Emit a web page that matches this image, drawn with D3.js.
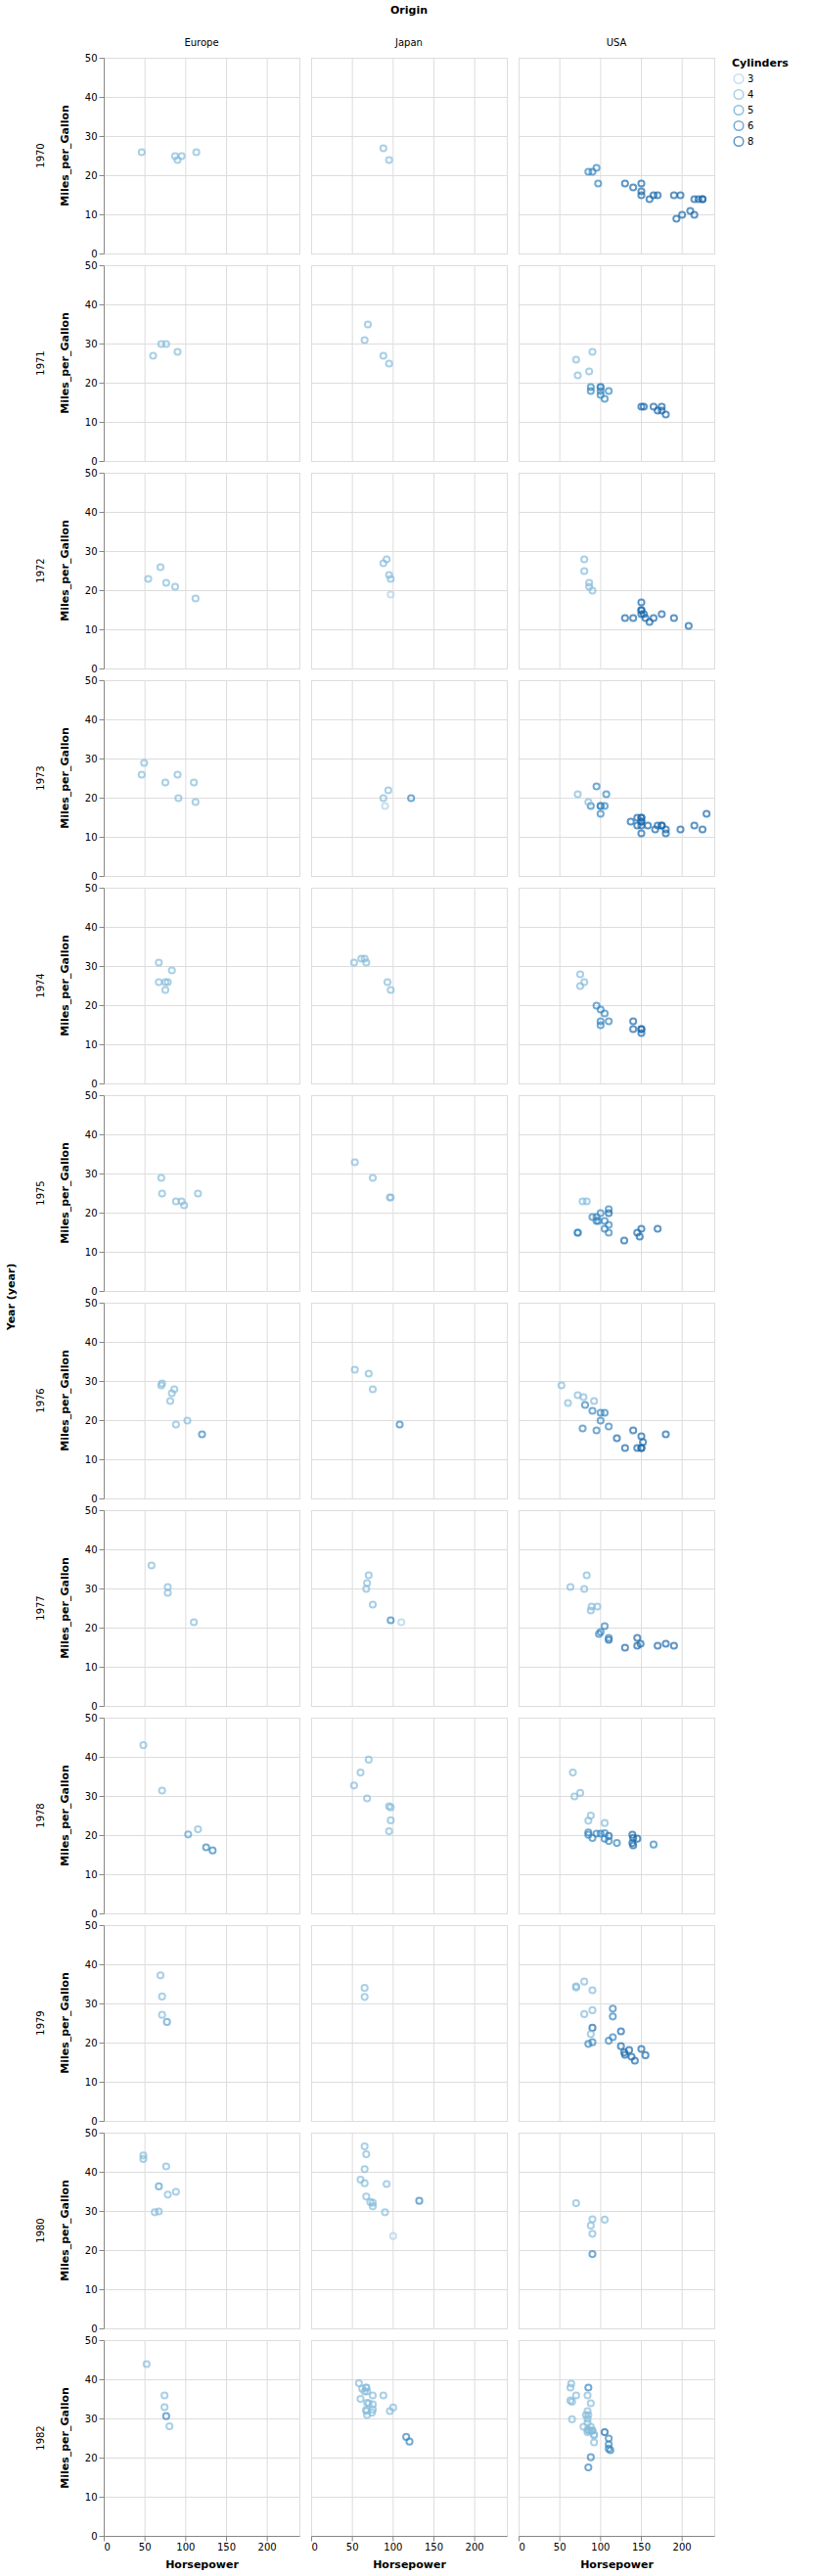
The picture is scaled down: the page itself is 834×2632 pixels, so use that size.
<!DOCTYPE html>
<html><head><meta charset="utf-8">
<script src="https://cdn.jsdelivr.net/npm/d3@7"></script>
<style>body{margin:0;background:#fff} text{font-family:"DejaVu Sans",sans-serif}</style>
</head><body><svg id="chart" width="834" height="2632"></svg>
<script>
// ---- data: each row = [origin, horsepower, miles_per_gallon, cylinders]
const years = [1970,1971,1972,1973,1974,1975,1976,1977,1978,1979,1980,1982];
const origins = ["Europe","Japan","USA"];
const cylinderLevels = [3,4,5,6,8];

const cars1970 = [["USA",130,18,8],["USA",165,15,8],["USA",150,18,8],["USA",150,16,8],["USA",140,17,8],["USA",198,15,8],["USA",220,14,8],["USA",215,14,8],["USA",225,14,8],["USA",190,15,8],["USA",170,15,8],["USA",160,14,8],["USA",150,15,8],["USA",225,14,8],["Japan",95,24,4],["USA",95,22,6],["USA",97,18,6],["USA",85,21,6],["Japan",88,27,4],["Europe",46,26,4],["Europe",87,25,4],["Europe",90,24,4],["Europe",95,25,4],["Europe",113,26,4],["USA",90,21,6],["USA",215,10,8],["USA",200,10,8],["USA",210,11,8],["USA",193,9,8]];
const cars1971 = [["Japan",88,27,4],["USA",90,28,4],["Japan",95,25,4],["USA",100,19,6],["USA",105,16,6],["USA",100,17,6],["USA",88,19,6],["USA",100,18,6],["USA",165,14,8],["USA",175,14,8],["USA",153,14,8],["USA",150,14,8],["USA",180,12,8],["USA",170,13,8],["USA",175,13,8],["USA",110,18,6],["USA",72,22,4],["USA",100,19,6],["USA",88,18,6],["USA",86,23,4],["Europe",90,28,4],["Europe",70,30,4],["Europe",76,30,4],["Japan",65,31,4],["Japan",69,35,4],["Europe",60,27,4],["USA",70,26,4]];
const cars1972 = [["Japan",95,24,4],["USA",80,25,4],["Europe",54,23,4],["USA",90,20,4],["USA",86,21,4],["USA",165,13,8],["USA",175,14,8],["USA",150,15,8],["USA",153,14,8],["USA",150,17,8],["USA",208,11,8],["USA",155,13,8],["USA",160,12,8],["USA",190,13,8],["Japan",97,19,3],["USA",150,15,8],["USA",130,13,8],["USA",140,13,8],["USA",150,14,8],["Europe",112,18,4],["Europe",76,22,4],["Europe",87,21,4],["Europe",69,26,4],["USA",86,22,4],["Japan",92,28,4],["Japan",97,23,4],["USA",80,28,4],["Japan",88,27,4]];
const cars1973 = [["USA",175,13,8],["USA",150,14,8],["USA",145,13,8],["USA",137,14,8],["USA",150,15,8],["USA",198,12,8],["USA",150,13,8],["USA",158,13,8],["USA",150,14,8],["USA",215,13,8],["USA",225,12,8],["USA",175,13,8],["USA",105,18,6],["USA",100,16,6],["USA",100,18,6],["USA",88,18,6],["USA",95,23,6],["Europe",46,26,4],["USA",150,11,8],["USA",167,12,8],["USA",170,13,8],["USA",180,12,8],["USA",100,18,6],["Japan",88,20,4],["USA",72,21,4],["Japan",94,22,4],["Japan",90,18,3],["USA",85,19,4],["USA",107,21,6],["Europe",90,26,4],["USA",145,15,8],["USA",230,16,8],["Europe",49,29,4],["Europe",75,24,4],["Europe",91,20,4],["Europe",112,19,4],["USA",150,15,8],["Europe",110,24,4],["Japan",122,20,6],["USA",180,11,8]];
const cars1974 = [["USA",95,20,6],["USA",100,19,6],["USA",100,15,6],["Japan",67,31,4],["USA",80,26,4],["Japan",65,32,4],["USA",75,25,4],["USA",100,16,6],["USA",110,16,6],["USA",105,18,6],["USA",140,16,8],["USA",150,13,8],["USA",150,14,8],["USA",140,14,8],["USA",150,14,8],["Europe",83,29,4],["Europe",67,26,4],["Europe",78,26,4],["Japan",52,31,4],["Japan",61,32,4],["USA",75,28,4],["Europe",75,24,4],["Europe",75,26,4],["Japan",97,24,4],["Japan",93,26,4],["Europe",67,31,4]];
const cars1975 = [["USA",95,19,6],["USA",105,18,6],["USA",72,15,6],["USA",72,15,6],["USA",170,16,8],["USA",145,15,8],["USA",150,16,8],["USA",148,14,8],["USA",110,17,6],["USA",105,16,6],["USA",110,15,6],["USA",95,18,6],["USA",110,21,6],["USA",110,20,8],["USA",129,13,8],["Japan",75,29,4],["USA",83,23,4],["USA",100,20,6],["USA",78,23,4],["Japan",96,24,4],["Europe",71,25,4],["Japan",97,24,4],["USA",97,18,6],["Europe",70,29,4],["USA",90,19,6],["Europe",95,23,4],["Europe",88,23,4],["Europe",98,22,4],["Europe",115,25,4],["Japan",53,33,4]];
const cars1976 = [["Japan",75,28,4],["USA",92,25,4],["Europe",81,25,4],["USA",79,26,4],["Europe",83,27,4],["USA",140,17.5,8],["USA",150,16,8],["USA",120,15.5,8],["USA",152,14.5,8],["USA",100,22,6],["USA",105,22,6],["USA",81,24,6],["USA",90,22.5,6],["USA",52,29,4],["USA",60,24.5,4],["Europe",70,29,4],["Japan",53,33,4],["USA",100,20,6],["USA",78,18,6],["USA",110,18.5,6],["USA",95,17.5,6],["Europe",71,29.5,4],["Japan",70,32,4],["USA",72,26.5,4],["Europe",102,20,4],["USA",150,13,8],["Europe",88,19,4],["Japan",108,19,6],["Europe",120,16.5,6],["USA",180,16.5,8],["USA",145,13,8],["USA",130,13,8],["USA",150,13,8],["Europe",86,28,4]];
const cars1977 = [["Europe",58,36,4],["USA",96,25.5,4],["Japan",70,33.5,4],["USA",145,17.5,8],["USA",110,17,8],["USA",145,15.5,8],["USA",130,15,8],["USA",110,17.5,6],["USA",105,20.5,6],["USA",100,19,6],["USA",98,18.5,6],["USA",180,16,8],["USA",170,15.5,8],["USA",190,15.5,8],["USA",149,16,8],["Europe",78,29,4],["USA",88,24.5,4],["Japan",75,26,4],["USA",89,25.5,4],["USA",63,30.5,4],["USA",83,33.5,4],["Japan",67,30,4],["Europe",78,30.5,4],["Japan",97,22,6],["Europe",110,21.5,4],["Japan",110,21.5,3],["Japan",68,31.5,4],["USA",80,30,4]];
const cars1978 = [["Europe",48,43.1,4],["USA",66,36.1,4],["Japan",52,32.8,4],["Japan",70,39.4,4],["Japan",60,36.1,4],["USA",110,19.9,8],["USA",140,19.4,8],["USA",139,20.2,8],["USA",105,19.2,6],["USA",95,20.5,6],["USA",85,20.2,6],["USA",88,25.1,4],["USA",100,20.5,6],["USA",90,19.4,6],["USA",105,20.6,6],["USA",85,20.8,6],["USA",110,18.6,6],["USA",120,18.1,6],["USA",145,19.2,8],["USA",165,17.7,6],["USA",139,18.1,8],["USA",140,17.5,8],["USA",68,30,4],["Japan",95,27.5,4],["Japan",97,27.2,4],["USA",75,30.9,4],["Japan",95,21.1,4],["USA",105,23.2,4],["USA",85,23.8,4],["Japan",97,23.9,4],["Europe",103,20.3,5],["Europe",125,17,6],["Europe",115,21.6,4],["Europe",133,16.2,6],["Europe",71,31.5,4],["Japan",68,29.5,4]];
const cars1979 = [["USA",90,20.2,6],["USA",110,20.6,6],["USA",130,17,8],["USA",129,17.6,8],["USA",138,16.5,8],["USA",135,18.2,8],["USA",155,16.9,8],["USA",142,15.5,8],["USA",125,19.2,8],["USA",150,18.5,8],["Europe",71,31.9,4],["Japan",65,34.1,4],["USA",80,35.7,4],["USA",80,27.4,4],["Europe",77,25.4,5],["USA",125,23,8],["Europe",71,27.2,4],["USA",90,23.9,8],["USA",70,34.2,4],["USA",70,34.5,4],["Japan",65,31.8,4],["Europe",69,37.3,4],["USA",90,28.4,4],["USA",115,28.8,6],["USA",115,26.8,6],["USA",90,33.5,4],["USA",88,22.3,4],["USA",85,19.8,6],["USA",115,21.5,6]];
const cars1980 = [["Japan",60,38.1,4],["Japan",65,37.2,4],["USA",90,28,4],["USA",88,26.4,4],["USA",90,24.3,4],["USA",90,19.1,6],["Europe",78,34.3,4],["Japan",90,29.8,4],["Japan",75,31.3,4],["Japan",92,37,4],["Japan",75,32.2,4],["Japan",65,46.6,4],["USA",105,27.9,4],["Japan",65,40.8,4],["Europe",48,44.3,4],["Europe",48,43.4,4],["Europe",67,36.4,5],["Europe",67,30,4],["Japan",67,44.6,4],["Japan",67,33.8,4],["Europe",62,29.8,4],["Japan",132,32.7,6],["Japan",100,23.7,3],["Europe",88,35,4],["Japan",72,32.4,4],["USA",70,32.1,4],["Europe",76,41.5,4]];
const cars1982 = [["USA",84,27.2,4],["USA",84,26.6,4],["USA",92,25.8,4],["USA",110,23.5,6],["USA",84,30,4],["Japan",58,39.1,4],["USA",64,39,4],["Japan",60,35.1,4],["Japan",67,32.3,4],["Japan",65,37,4],["Japan",62,37.7,4],["Japan",68,34.1,4],["USA",63,34.7,4],["USA",65,34.4,4],["USA",65,29.9,4],["Europe",74,33,4],["Japan",75,33.7,4],["Japan",75,32.4,4],["Japan",100,32.9,4],["Japan",74,31.6,4],["Europe",80,28.1,4],["Europe",76,30.7,6],["Japan",116,25.4,6],["Japan",120,24.2,6],["USA",110,22.4,6],["USA",105,26.6,8],["USA",88,20.2,6],["USA",85,17.6,6],["USA",88,28,4],["USA",88,27,4],["USA",88,34,4],["USA",85,31,4],["USA",84,29,4],["USA",90,27,4],["USA",92,24,4],["Europe",74,36,4],["Japan",68,37,4],["Japan",68,31,4],["USA",63,38,4],["USA",70,36,4],["Japan",88,36,4],["Japan",75,36,4],["Japan",70,34,4],["Japan",67,38,4],["Japan",67,32,4],["Japan",67,38,4],["USA",110,25,6],["USA",85,38,6],["USA",92,26,4],["USA",112,22,6],["Japan",96,32,4],["USA",84,36,4],["USA",90,27,4],["USA",86,27,4],["Europe",52,44,4],["USA",84,32,4],["USA",79,28,4],["USA",82,31,4]];
const carsByYear = [cars1970,cars1971,cars1972,cars1973,cars1974,cars1975,cars1976,cars1977,cars1978,cars1979,cars1980,cars1982];

// ---- layout / style
const W = 200, H = 200, GAP = 12, LEFT = 106, TOP = 59;
const FONT = '"DejaVu Sans", sans-serif';
const svg = d3.select("#chart");
svg.append("rect").attr("width",834).attr("height",2632).attr("fill","#fff");

const all = carsByYear.flat();
const x = d3.scaleLinear().domain([0, d3.max(all, d => d[1])]).nice().range([0, W]);
const y = d3.scaleLinear().domain([0, d3.max(all, d => d[2])]).nice().range([H, 0]);
const color = d3.scaleOrdinal().domain(cylinderLevels)
  .range(["#afd1e7","#86bcdc","#5ba3cf","#3887c0","#1b69ad"]);
const colPos = d3.scaleBand().domain(origins)
  .range([LEFT, LEFT + origins.length*(W+GAP) - GAP]).paddingInner(GAP/(W+GAP)).paddingOuter(0);
const rowPos = d3.scaleBand().domain(years)
  .range([TOP, TOP + years.length*(H+GAP) - GAP]).paddingInner(GAP/(H+GAP)).paddingOuter(0);
const R = Math.sqrt(30/Math.PI);
const innerW = origins.length*(W+GAP) - GAP;
const innerH = years.length*(H+GAP) - GAP;

// top title & column headers
svg.append("text").attr("x", LEFT + innerW/2).attr("y", 14).attr("text-anchor","middle")
  .attr("font-size",11).attr("font-weight","bold").attr("font-family",FONT).text("Origin");
origins.forEach(o => {
  svg.append("text").attr("x", colPos(o) + W/2).attr("y", 46.5).attr("text-anchor","middle")
    .attr("font-size",10).attr("font-family",FONT).text(o);
});
// row title
svg.append("text").attr("transform", `translate(15,${TOP + innerH/2}) rotate(-90)`)
  .attr("text-anchor","middle").attr("font-size",11).attr("font-weight","bold").attr("font-family",FONT).text("Year (year)");

years.forEach((yr, ri) => {
  const data = carsByYear[ri];
  const py = rowPos(yr);
  svg.append("text").attr("transform", `translate(45,${py + H/2}) rotate(-90)`)
    .attr("text-anchor","middle").attr("font-size",10).attr("font-family",FONT).text(yr);
  svg.append("text").attr("transform", `translate(70,${py + H/2}) rotate(-90)`)
    .attr("text-anchor","middle").attr("font-size",11).attr("font-weight","bold").attr("font-family",FONT).text("Miles_per_Gallon");

  origins.forEach((o, ci) => {
    const g = svg.append("g").attr("transform", `translate(${colPos(o)+0.5},${py+0.5})`);
    g.append("rect").attr("width",W).attr("height",H).attr("fill","#fff").attr("stroke","#ddd");
    g.selectAll(".gx").data(x.ticks(5)).join("line")
      .attr("x1",d=>x(d)).attr("x2",d=>x(d)).attr("y1",0).attr("y2",H).attr("stroke","#ddd");
    g.selectAll(".gy").data(y.ticks(5)).join("line")
      .attr("x1",0).attr("x2",W).attr("y1",d=>y(d)).attr("y2",d=>y(d)).attr("stroke","#ddd");

    if (ci === 0) {
      const ax = g.append("g");
      ax.append("line").attr("x1",0).attr("x2",0).attr("y1",0).attr("y2",H).attr("stroke","#888");
      y.ticks(5).forEach(t => {
        ax.append("line").attr("x1",-5).attr("x2",0).attr("y1",y(t)).attr("y2",y(t)).attr("stroke","#888");
        ax.append("text").attr("x",-7).attr("y",y(t)).attr("dy","0.32em").attr("text-anchor","end")
          .attr("font-size",10).attr("font-family",FONT).attr("fill","#000").text(t);
      });
    }
    if (ri === years.length-1) {
      const ax = g.append("g").attr("transform",`translate(0,${H})`);
      ax.append("line").attr("x1",0).attr("x2",W).attr("y1",0).attr("y2",0).attr("stroke","#888");
      x.ticks(5).forEach((t,i) => {
        ax.append("line").attr("x1",x(t)).attr("x2",x(t)).attr("y1",0).attr("y2",5).attr("stroke","#888");
        ax.append("text").attr("x",x(t)).attr("y",7).attr("dy","0.76em")
          .attr("text-anchor", i === 0 ? "start" : "middle")
          .attr("font-size",10).attr("font-family",FONT).attr("fill","#000").text(t);
      });
      ax.append("text").attr("x",W/2).attr("y",32).attr("text-anchor","middle")
        .attr("font-size",11).attr("font-weight","bold").attr("font-family",FONT).text("Horsepower");
    }

    g.selectAll("circle.pt").data(data.filter(d => d[0] === o)).join("circle")
      .attr("class","pt")
      .attr("cx", d => x(d[1])).attr("cy", d => y(d[2])).attr("r", R)
      .attr("fill","none").attr("stroke", d => color(d[3]))
      .attr("stroke-width",2).attr("opacity",0.7);
  });
});

// legend
const lg = svg.append("g").attr("transform","translate(748,59)");
lg.append("text").attr("x",0).attr("y",9).attr("font-size",11).attr("font-weight","bold")
  .attr("font-family",FONT).text("Cylinders");
cylinderLevels.forEach((c, i) => {
  const cy = 21.5 + i*16;
  lg.append("circle").attr("cx",7).attr("cy",cy).attr("r",4.8).attr("fill","none")
    .attr("stroke",color(c)).attr("stroke-width",1.5).attr("opacity",0.7);
  lg.append("text").attr("x",16).attr("y",cy).attr("dy","0.35em").attr("font-size",10)
    .attr("font-family",FONT).text(c);
});
</script></body></html>
